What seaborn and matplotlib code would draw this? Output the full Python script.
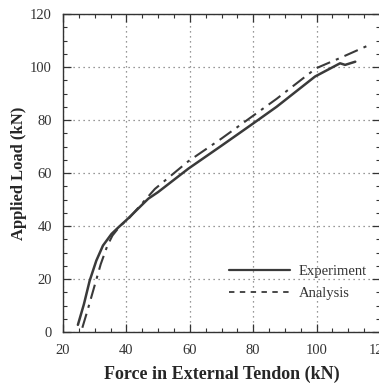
import seaborn as sns
import pandas as pd
import matplotlib.pyplot as plt
from matplotlib.lines import Line2D
from matplotlib.ticker import MultipleLocator

# values
exp_force = [24.7, 26.6, 28.4, 30.5, 32.6, 35.3, 37.5, 40.5, 46.9, 50.0, 59.5, 70.0, 80.0, 87.4, 99.5, 107.4, 109.0, 112.2]
exp_load = [2.7, 10.5, 19.3, 26.9, 32.6, 37.0, 39.5, 42.8, 50.3, 52.8, 61.6, 70.3, 78.7, 85.0, 96.4, 101.4, 100.8, 102.0]

ana_force = [26.1, 27.7, 29.8, 31.9, 34.0, 35.6, 38.0, 40.5, 49.0, 59.5, 70.0, 79.5, 87.4, 99.8, 107.2, 116.6]
ana_load = [1.6, 8.0, 16.8, 25.6, 32.6, 36.4, 40.0, 42.5, 54.0, 64.4, 73.0, 81.2, 88.0, 99.5, 103.3, 108.3]

series_names = ['Experiment', 'Analysis']

df_exp = pd.DataFrame({'force': exp_force, 'load': exp_load})
df_ana = pd.DataFrame({'force': ana_force, 'load': ana_load})

sns.set_style('ticks')
plt.rcParams['font.family'] = ['Liberation Serif', 'DejaVu Serif']

fig = plt.figure(figsize=(3.79, 3.85), dpi=100)
ax = fig.add_axes([63 / 379, 53 / 385, 317 / 379, 318 / 385])

col = '#3a3a3a'
sns.lineplot(data=df_exp, x='force', y='load', sort=False, estimator=None,
             color=col, linewidth=1.8, ax=ax)
sns.lineplot(data=df_ana, x='force', y='load', sort=False, estimator=None,
             color=col, linewidth=1.5, linestyle=(0, (7, 3, 1.5, 3)), ax=ax)

ax.set_xlim(20, 120)
ax.set_ylim(0, 120)
ax.xaxis.set_major_locator(MultipleLocator(20))
ax.xaxis.set_minor_locator(MultipleLocator(5))
ax.yaxis.set_major_locator(MultipleLocator(20))
ax.yaxis.set_minor_locator(MultipleLocator(5))
ax.tick_params(which='both', direction='in', top=True, right=True, color='#333333')
ax.tick_params(which='major', length=6, width=0.9, labelsize=10.5, labelcolor='#333333')
ax.tick_params(axis='x', which='major', pad=9)
ax.tick_params(axis='y', which='major', pad=8)
ax.tick_params(which='minor', length=3, width=0.8)
ax.grid(True, which='major', linestyle=(0, (1, 3)), color='#777777', linewidth=0.9)
for s in ax.spines.values():
    s.set_color('#333333')
    s.set_linewidth(1.0)

ax.set_xlabel('Force in External Tendon (kN)', fontsize=13, fontweight='bold', labelpad=6)
ax.set_ylabel('Applied Load (kN)', fontsize=12, fontweight='bold', labelpad=2)

handles = [Line2D([], [], color=col, linewidth=1.6),
           Line2D([], [], color=col, linewidth=1.3, linestyle=(0, (3, 3)))]
ax.legend(handles, series_names, loc='lower right', bbox_to_anchor=(1.0, 0.06),
          frameon=False, fontsize=10.5, handlelength=4.2, labelspacing=0.6,
          handletextpad=0.6, labelcolor='#333333')

fig.savefig('out.png', dpi=100)
